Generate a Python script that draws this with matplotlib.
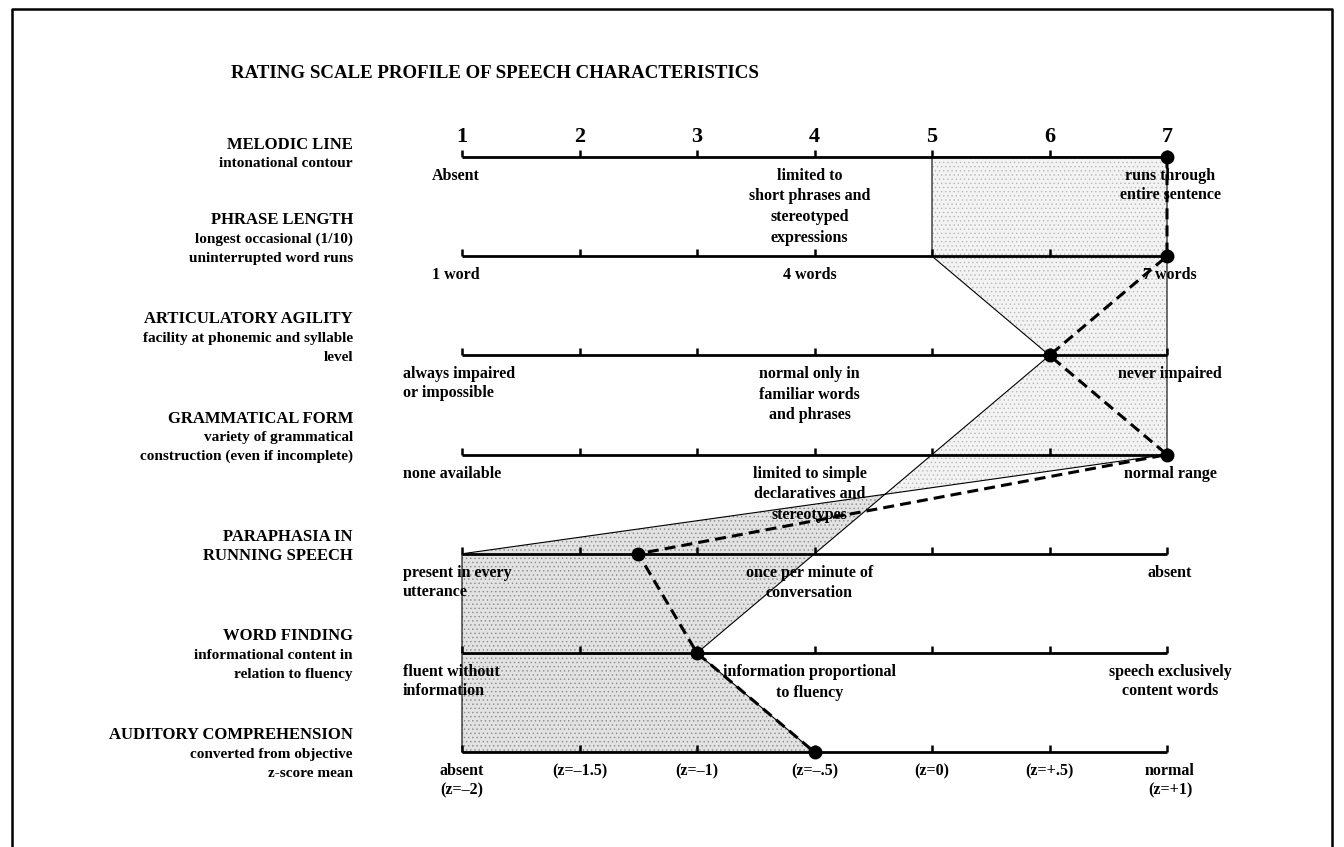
import numpy as np
import matplotlib.pyplot as plt
from matplotlib.lines import Line2D

plt.rcParams['font.family'] = ['Liberation Serif', 'DejaVu Serif']
plt.rcParams['hatch.linewidth'] = 0.5

# ---- data ----
title = "RATING SCALE PROFILE OF SPEECH CHARACTERISTICS"
scale_values = [1, 2, 3, 4, 5, 6, 7]

row_titles = ["MELODIC LINE", "PHRASE LENGTH", "ARTICULATORY AGILITY",
              "GRAMMATICAL FORM", "PARAPHASIA IN\nRUNNING SPEECH",
              "WORD FINDING", "AUDITORY COMPREHENSION"]
row_notes = ["intonational contour",
             "longest occasional (1/10)\nuninterrupted word runs",
             "facility at phonemic and syllable\nlevel",
             "variety of grammatical\nconstruction (even if incomplete)",
             "",
             "informational content in\nrelation to fluency",
             "converted from objective\nz-score mean"]

low_desc = ["Absent", "1 word", "always impaired\nor impossible", "none available",
            "present in every\nutterance", "fluent without\ninformation",
            "absent\n(z=\u20132)"]
mid_desc = ["limited to\nshort phrases and\nstereotyped\nexpressions",
            "4 words",
            "normal only in\nfamiliar words\nand phrases",
            "limited to simple\ndeclaratives and\nstereotypes",
            "once per minute of\nconversation",
            "information proportional\nto fluency",
            ""]
high_desc = ["runs through\nentire sentence", "7 words", "never impaired",
             "normal range", "absent", "speech exclusively\ncontent words",
             "normal\n(z=+1)"]
z_values = [2, 3, 4, 5, 6]
z_labels = ["(z=\u20131.5)", "(z=\u20131)", "(z=\u2013.5)", "(z=0)", "(z=+.5)"]

# patient ratings (dashed profile)
patient = [7, 7, 6, 7, 2.5, 3, 4]
# shaded band edges per row
band_a = [5, 5, 6, 5, 4, 3, 4]
band_b = [7, 7, 7, 7, 1, 1, 1]

# ---- layout ----
rows = np.arange(len(row_titles))
UX = 117.5   # pixels per scale unit
UY = 99.2    # pixels per row
px_x = 1 / UX
px_y = 1 / UY
LINE = 19 * px_y

fig = plt.figure(figsize=(13.44, 8.47), dpi=100)
ax = fig.add_axes([0, 0, 1, 1])
ax.set_xlim(1 - 462 / UX, 1 + (1344 - 462) / UX)
ax.set_ylim((847 - 157) / UY, -157 / UY)
ax.axis('off')

# shaded band, split where its two edges cross
a = np.array(band_a, float)
b = np.array(band_b, float)
d = a - b
k = np.where(np.sign(d[:-1]) != np.sign(d[1:]))[0][0]
t = d[k] / (d[k] - d[k + 1])
cx = a[k] + t * (a[k + 1] - a[k])
cy = rows[k] + t
upper_x = list(a[:k + 1]) + [cx] + list(b[:k + 1][::-1])
upper_y = list(rows[:k + 1]) + [cy] + list(rows[:k + 1][::-1])
lower_x = [cx] + list(a[k + 1:]) + list(b[k + 1:][::-1])
lower_y = [cy] + list(rows[k + 1:]) + list(rows[k + 1:][::-1])
ax.fill(upper_x, upper_y, facecolor='#f3f3f3', edgecolor='#b8b8b8',
        hatch='....', linewidth=0, zorder=1)
ax.fill(lower_x, lower_y, facecolor='#e2e2e2', edgecolor='#8a8a8a',
        hatch='....', linewidth=0, zorder=1)
outline_x = list(a) + list(b[::-1]) + [a[0]]
outline_y = list(rows) + list(rows[::-1]) + [rows[0]]
ax.plot(outline_x, outline_y, color='black', lw=0.8, zorder=2)

# scale lines with upward ticks
for r in rows:
    ax.plot([scale_values[0], scale_values[-1]], [r, r], color='black',
            lw=2.0, solid_capstyle='butt', zorder=3)
    ax.vlines(scale_values, r, r - 7 * px_y, color='black', lw=1.8, zorder=3)

for v in scale_values:
    ax.text(v, rows[0] - 20 * px_y, str(v), ha='center', va='center',
            fontsize=16, fontweight='bold', zorder=6)

# patient profile
ax.plot(patient, rows, color='black', lw=2.2, dashes=(3.6, 2.0), zorder=4)
ax.plot(patient, rows, 'o', color='black', ms=9, zorder=5)

# left-hand labels
label_x = 1 - 109 * px_x
title_offset = [-0.75, -2, -2, -2, -1, -1, -1]
for r, name, note, off in zip(rows, row_titles, row_notes, title_offset):
    lines = [(l, 12, 'bold') for l in name.split('\n')]
    if note:
        lines += [(l, 11, 'bold') for l in note.split('\n')]
    for i, (txt, fs, fw) in enumerate(lines):
        ax.text(label_x, r + (off + i) * LINE + 2 * px_y, txt, ha='right',
                va='center', fontsize=fs, fontweight=fw, zorder=6)

# descriptors under each scale
low_ha = ['center', 'center', 'left', 'left', 'left', 'left', 'center']
for r, txt, ha in zip(rows, low_desc, low_ha):
    x = 1 - 6 * px_x if ha == 'center' else 1 - 59 * px_x
    if r == rows[-1]:
        x = 1
    for i, line in enumerate(txt.split('\n')):
        ax.text(x, r + 19 * px_y + i * LINE, line, ha=ha, va='center',
                fontsize=11.5, fontweight='bold', zorder=6)

for r, txt in zip(rows, mid_desc):
    if not txt:
        continue
    for i, line in enumerate(txt.split('\n')):
        ax.text(4 - 5 * px_x, r + 19 * px_y + i * 20.5 * px_y, line, ha='center',
                va='center', fontsize=11.5, fontweight='bold', zorder=6)

for r, txt in zip(rows, high_desc):
    for i, line in enumerate(txt.split('\n')):
        ax.text(7 + 3 * px_x, r + 19 * px_y + i * LINE, line, ha='center',
                va='center', fontsize=11.5, fontweight='bold', zorder=6)

for v, lab in zip(z_values, z_labels):
    ax.text(v, rows[-1] + 19 * px_y, lab, ha='center', va='center',
            fontsize=11.5, fontweight='bold', zorder=6)

fig.text(495 / 1344, 1 - 73 / 847, title, ha='center', va='center',
         fontsize=13.6, fontweight='bold')

# page frame (open at the bottom)
fx = [12 / 1344, 12 / 1344, 1332 / 1344, 1332 / 1344]
fy = [0, 1 - 9 / 847, 1 - 9 / 847, 0]
fig.add_artist(Line2D(fx, fy, color='black', lw=1.8, transform=fig.transFigure))

fig.savefig('out.png', dpi=100)
